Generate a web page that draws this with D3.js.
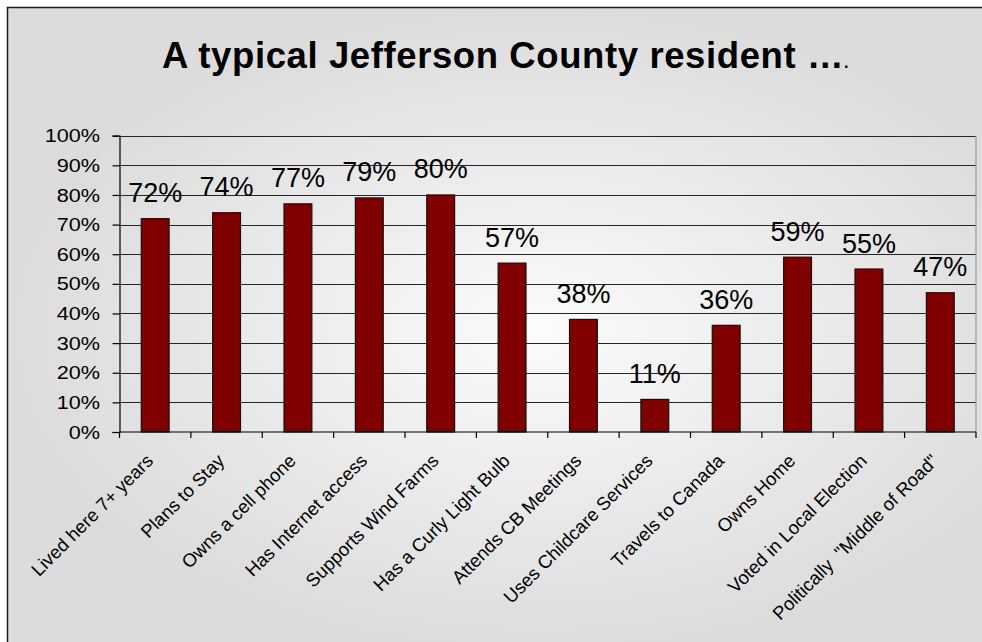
<!DOCTYPE html>
<html>
<head>
<meta charset="utf-8">
<script src="https://cdn.jsdelivr.net/npm/d3@7"></script>
<style>
  html, body { margin: 0; padding: 0; background: #ffffff; }
  svg { display: block; }
  text { font-family: "Liberation Sans", Arial, sans-serif; fill: #000; }
</style>
</head>
<body>
<svg id="chart" width="982" height="642"></svg>
<script>
// Survey results: share of residents for each trait
const categories = [
  "Lived here 7+ years",
  "Plans to Stay",
  "Owns a cell phone",
  "Has Internet access",
  "Supports Wind Farms",
  "Has a Curly Light Bulb",
  "Attends CB Meetings",
  "Uses Childcare Services",
  "Travels to Canada",
  "Owns Home",
  "Voted in Local Election",
  "Politically  \"Middle of Road\""
];
const values = [0.72, 0.74, 0.77, 0.79, 0.80, 0.57, 0.38, 0.11, 0.36, 0.59, 0.55, 0.47];
const yTicks = [0, 0.1, 0.2, 0.3, 0.4, 0.5, 0.6, 0.7, 0.8, 0.9, 1.0];
const titleText = "A typical Jefferson County resident \u2026";

const W = 982, H = 642;
const plot = { left: 119.5, right: 976, top: 135.7, bottom: 432 };
const pct = d3.format(".0%");

const svg = d3.select("#chart");
const defs = svg.append("defs");

// Soft radial fill behind the whole chart
const grad = defs.append("radialGradient")
  .attr("id", "bg")
  .attr("gradientUnits", "userSpaceOnUse")
  .attr("cx", 540).attr("cy", 330).attr("r", 320)
  .attr("gradientTransform", "translate(540,330) scale(1.65,1) translate(-540,-330)");
grad.append("stop").attr("offset", "0%").attr("stop-color", "#fbfbfb");
grad.append("stop").attr("offset", "100%").attr("stop-color", "#dcdcdc");

svg.append("rect").attr("width", W).attr("height", H).attr("fill", "#ffffff");
svg.append("rect")
  .attr("x", 7.5).attr("y", 7.5)
  .attr("width", W + 20).attr("height", H + 20)
  .attr("fill", "url(#bg)")
  .attr("stroke", "#1a1a1a").attr("stroke-width", 1.5);

// Title
const title = svg.append("text")
  .attr("x", 162).attr("y", 68)
  .attr("font-size", 36.5).attr("font-weight", "bold")
  .attr("letter-spacing", 0.6)
  .text(titleText);
title.append("tspan").attr("font-size", 16).text(".");

// Scales
const x = d3.scaleBand().domain(categories).range([plot.left, plot.right]).padding(0);
const y = d3.scaleLinear().domain([0, 1]).range([plot.bottom, plot.top]);
const barW = x.bandwidth() * 0.39;

// Gridlines
svg.append("g")
  .selectAll("line")
  .data(yTicks.filter(d => d > 0))
  .join("line")
  .attr("x1", plot.left).attr("x2", plot.right)
  .attr("y1", d => Math.round(y(d)) + 0.5).attr("y2", d => Math.round(y(d)) + 0.5)
  .attr("stroke", "#262626").attr("stroke-width", 1);

// Right edge of plot area
svg.append("line")
  .attr("x1", plot.right).attr("x2", plot.right)
  .attr("y1", plot.top).attr("y2", plot.bottom)
  .attr("stroke", "#9a9a9a").attr("stroke-width", 1.2);

// Bars
svg.append("g")
  .selectAll("rect")
  .data(values)
  .join("rect")
  .attr("x", (d, i) => x(categories[i]) + (x.bandwidth() - barW) / 2)
  .attr("y", d => y(d))
  .attr("width", barW)
  .attr("height", d => y(0) - y(d))
  .attr("fill", "#800000")
  .attr("stroke", "#111").attr("stroke-width", 1.2);

// Value labels
svg.append("g")
  .selectAll("text")
  .data(values)
  .join("text")
  .attr("x", (d, i) => x(categories[i]) + x.bandwidth() / 2)
  .attr("y", d => y(d) - 16.5)
  .attr("text-anchor", "middle")
  .attr("font-size", 27)
  .text(d => pct(d));

// Y axis (labels drawn slightly wide)
const yAxis = svg.append("g")
  .attr("transform", `translate(${plot.left},0)`)
  .call(d3.axisLeft(y).tickValues(yTicks).tickFormat(pct).tickSize(7).tickPadding(12));
yAxis.select(".domain").attr("stroke", "#000").attr("stroke-width", 1.2);
yAxis.selectAll(".tick line").attr("stroke", "#000").attr("stroke-width", 1.2);
yAxis.selectAll(".tick text")
  .attr("x", null)
  .attr("font-family", "Liberation Sans, Arial, sans-serif")
  .attr("font-size", 19).attr("fill", "#000")
  .attr("transform", "translate(-19.5,0) scale(1.14,1)");

// X axis line and category boundary ticks
const xAxisG = svg.append("g");
xAxisG.append("line")
  .attr("x1", plot.left).attr("x2", plot.right)
  .attr("y1", plot.bottom).attr("y2", plot.bottom)
  .attr("stroke", "#000").attr("stroke-width", 1.2);
const bounds = categories.map(c => x(c)).concat([x.range()[1]]);
xAxisG.selectAll("line.tk")
  .data(bounds)
  .join("line")
  .attr("class", "tk")
  .attr("x1", d => d).attr("x2", d => d)
  .attr("y1", plot.bottom).attr("y2", plot.bottom + 6)
  .attr("stroke", "#000").attr("stroke-width", 1.2);

// Rotated category labels
svg.append("g")
  .selectAll("text")
  .data(categories)
  .join("text")
  .attr("transform", d => `translate(${x(d) + x.bandwidth() / 2 - 1},462) rotate(-45)`)
  .attr("text-anchor", "end")
  .attr("font-size", 18.5)
  .style("white-space", "pre")
  .text(d => d);
</script>
</body>
</html>
